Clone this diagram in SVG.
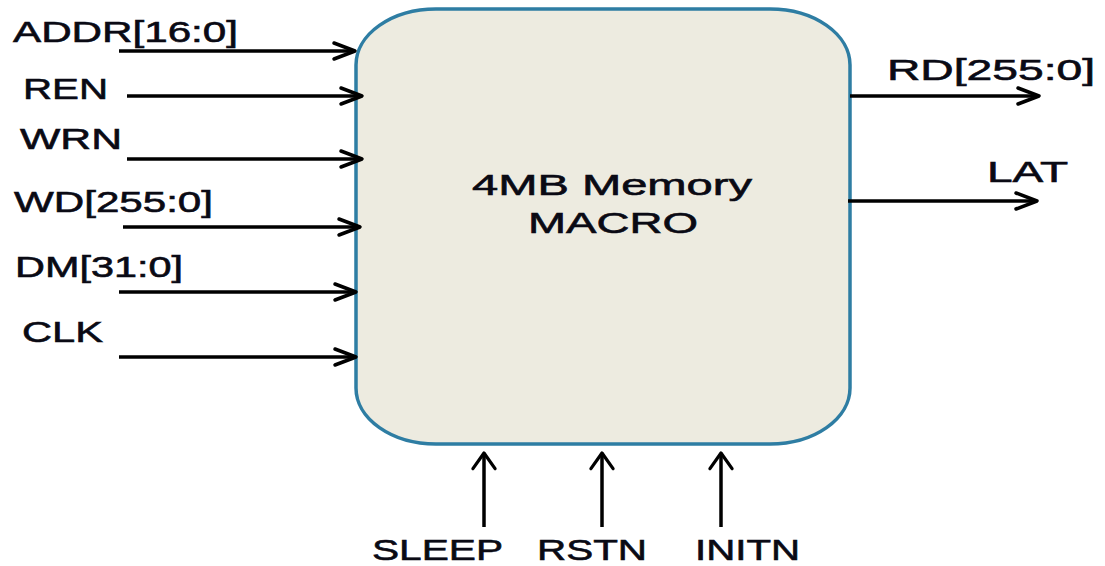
<svg xmlns="http://www.w3.org/2000/svg" width="1105" height="566" viewBox="0 0 1105 566">
<style>
  .lbl { font-family: "Liberation Sans", Arial, sans-serif; font-size: 30px; fill: #0a0a14; stroke: #0a0a14; stroke-width: 0.6; }
  .wire { stroke: #000; stroke-width: 3.5; fill: none; }
  .head { stroke: #000; stroke-width: 3.5; fill: none; stroke-linecap: round; stroke-linejoin: round; }
</style>
<defs>
  <marker id="ah" markerUnits="userSpaceOnUse" markerWidth="30" markerHeight="24" viewBox="-26 -12 30 24" refX="0" refY="0" orient="auto">
    <path class="head" d="M-21,-8 L0,0 L-21,8"/>
  </marker>
  <marker id="av" markerUnits="userSpaceOnUse" markerWidth="24" markerHeight="30" viewBox="-22 -14 26 28" refX="0" refY="0" orient="auto">
    <path class="head" d="M-17,-12 L0,0 L-17,12"/>
  </marker>
</defs>
<rect width="1105" height="566" fill="#ffffff"/>
<g id="macro">
  <rect x="356" y="9" width="494" height="435" rx="80" ry="56" fill="#EDEBE0" stroke="#2E7DA3" stroke-width="3.5"/>
  <text class="lbl" x="612" y="195" text-anchor="middle" textLength="280" lengthAdjust="spacingAndGlyphs">4MB Memory</text>
  <text class="lbl" x="613" y="233" text-anchor="middle" textLength="170" lengthAdjust="spacingAndGlyphs">MACRO</text>
</g>
<g id="labels">
  <text class="lbl" x="13" y="42" textLength="225" lengthAdjust="spacingAndGlyphs">ADDR[16:0]</text>
  <text class="lbl" x="23" y="99" textLength="85" lengthAdjust="spacingAndGlyphs">REN</text>
  <text class="lbl" x="20" y="149" textLength="102" lengthAdjust="spacingAndGlyphs">WRN</text>
  <text class="lbl" x="14" y="212" textLength="199" lengthAdjust="spacingAndGlyphs">WD[255:0]</text>
  <text class="lbl" x="15" y="277" textLength="168" lengthAdjust="spacingAndGlyphs">DM[31:0]</text>
  <text class="lbl" x="22" y="342" textLength="81" lengthAdjust="spacingAndGlyphs">CLK</text>
  <text class="lbl" x="887" y="80" textLength="208" lengthAdjust="spacingAndGlyphs">RD[255:0]</text>
  <text class="lbl" x="987" y="182" textLength="81" lengthAdjust="spacingAndGlyphs">LAT</text>
  <text class="lbl" x="372" y="560" textLength="131" lengthAdjust="spacingAndGlyphs">SLEEP</text>
  <text class="lbl" x="537" y="560" textLength="110" lengthAdjust="spacingAndGlyphs">RSTN</text>
  <text class="lbl" x="695" y="560" textLength="105" lengthAdjust="spacingAndGlyphs">INITN</text>
</g>
<g id="connectors">
  <line class="wire" x1="119" y1="51" x2="355" y2="51" marker-end="url(#ah)"/>
  <line class="wire" x1="127" y1="96" x2="362" y2="96" marker-end="url(#ah)"/>
  <line class="wire" x1="127" y1="159" x2="362" y2="159" marker-end="url(#ah)"/>
  <line class="wire" x1="123" y1="227" x2="360" y2="227" marker-end="url(#ah)"/>
  <line class="wire" x1="119" y1="292" x2="356" y2="292" marker-end="url(#ah)"/>
  <line class="wire" x1="119" y1="357" x2="356" y2="357" marker-end="url(#ah)"/>
  <line class="wire" x1="850" y1="96" x2="1039" y2="96" marker-end="url(#ah)"/>
  <line class="wire" x1="848" y1="201" x2="1037" y2="201" marker-end="url(#ah)"/>
  <line class="wire" x1="484" y1="527" x2="484" y2="453" marker-end="url(#av)"/>
  <line class="wire" x1="602" y1="527" x2="602" y2="453" marker-end="url(#av)"/>
  <line class="wire" x1="721" y1="527" x2="721" y2="453" marker-end="url(#av)"/>
</g>
</svg>
